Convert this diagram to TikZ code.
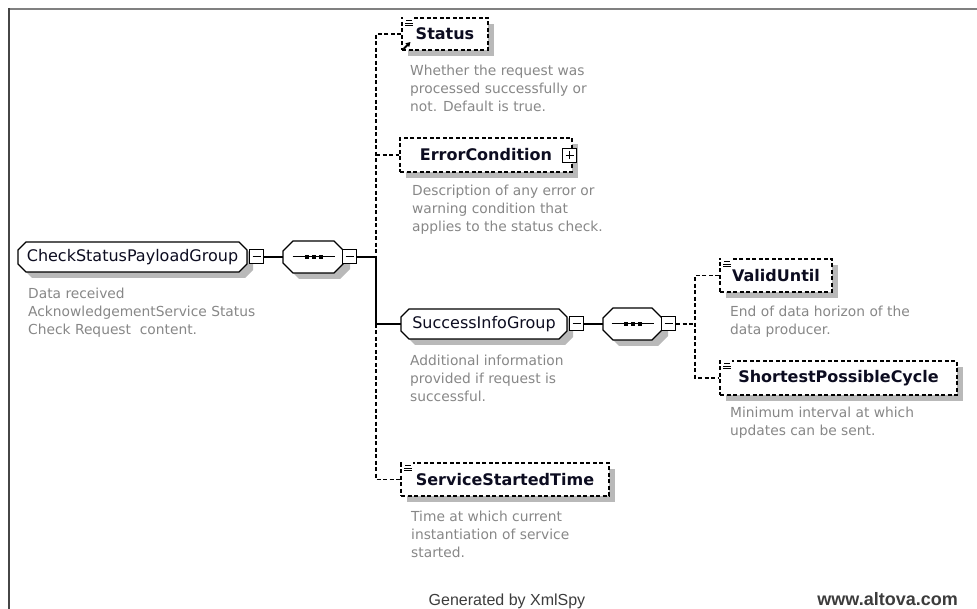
\documentclass[tikz,border=0pt]{standalone}
\usepackage{fontspec}
\setmainfont{DejaVu Sans}
\newfontfamily\footfont{Liberation Sans}
\usetikzlibrary{arrows.meta}

\definecolor{descgray}{RGB}{135,135,135}
\definecolor{shadowgray}{RGB}{185,185,185}
\definecolor{framedark}{RGB}{70,70,70}
\definecolor{framelight}{RGB}{128,128,128}
\definecolor{namecol}{RGB}{12,12,32}
\definecolor{footgray}{RGB}{60,60,60}

% octagonal outline: [style] x1 y1 x2 y2 chamfer
\newcommand\octobox[6][]{\path[#1] (#2+#6,#3) -- (#4-#6,#3) -- (#4,#3+#6) -- (#4,#5-#6)
  -- (#4-#6,#5) -- (#2+#6,#5) -- (#2,#5-#6) -- (#2,#3+#6) -- cycle;}
% group / compositor frame with its shadow: x1 y1 x2 y2 chamfer
\newcommand\groupframe[5]{%
  \octobox[shadowfill]{#1+6}{#2+6}{#3+6}{#4+6}{#5}%
  \octobox[solidline,fill=white]{#1}{#2}{#3}{#4}{#5}}
% shadow of a rectangular element box: x1 y1 x2 y2
\newcommand\boxshadow[4]{\fill[shadowgray] (#1+6,#2+6) rectangle (#3+6,#4+6);}
% sequence symbol: centre x, centre y
\newcommand\seqmark[2]{%
  \draw[line width=1pt] (#1-21,#2) -- (#1+21,#2);
  \foreach \dd in {-7,0,7}{\fill (#1+\dd-2,#2-1.7) rectangle (#1+\dd+2,#2+1.7);}}
% simple-content mark at the top-left corner of an element box
\newcommand\simplemark[2]{%
  \fill[white] (#1+1,#2-1) rectangle (#1+12,#2+9);
  \draw[line width=0.9pt] (#1+4,#2+2.5) -- (#1+10,#2+2.5)
    (#1+3,#2+5) -- (#1+11,#2+5) (#1+3,#2+7.5) -- (#1+11,#2+7.5);}

\tikzset{
  solidline/.style={draw=black, line width=1.3pt},
  dashline/.style={draw=black, line width=1.4pt, dash pattern=on 4pt off 2.5pt},
  shadowfill/.style={fill=shadowgray, draw=none},
  boxlabel/.style={inner sep=0pt, text=namecol, font=\fontsize{16}{19}\selectfont},
  elembox/.style={boxlabel, dashline, fill=white,
    font=\bfseries\fontsize{16}{19}\selectfont},
  toggle/.style={draw=black, fill=white, line width=1pt, minimum size=14pt, inner sep=0pt},
  minussign/.style={toggle, path picture={\draw[line width=1pt]
    ([xshift=3pt]path picture bounding box.west) -- ([xshift=-3pt]path picture bounding box.east);}},
  plussign/.style={toggle, path picture={\draw[line width=1pt]
    ([xshift=3pt]path picture bounding box.west) -- ([xshift=-3pt]path picture bounding box.east)
    ([yshift=-3pt]path picture bounding box.north) -- ([yshift=3pt]path picture bounding box.south);}},
  desc/.style={anchor=north west, inner sep=0pt, align=left, text=descgray,
    font=\fontsize{13.8}{18}\selectfont},
  footer/.style={inner sep=0pt, text=footgray, font=\footfont\fontsize{16}{19}\selectfont},
}

\begin{document}
\begin{tikzpicture}[x=1pt,y=-1pt]
\useasboundingbox (0,0) rectangle (977,609);

% outer frame
\draw[framelight, line width=2pt] (8,9) -- (977,9);
\draw[framedark, line width=2pt] (9,8) -- (9,609);

% CheckStatusPayloadGroup and its sequence
\groupframe{18}{242}{247}{272}{8}
\node[boxlabel, minimum width=229pt, minimum height=30pt] (cspg) at (132.5,257) {CheckStatusPayloadGroup};
\node[minussign] (cspgm) at (256.5,257) {};
\groupframe{283}{241}{344}{273}{10}
\node[inner sep=0pt, minimum width=61pt, minimum height=32pt] (seq1) at (313.5,257) {};
\seqmark{313.5}{257}
\node[minussign] (seq1m) at (349.5,257) {};
\node[desc] (cspgd) at (28,288.3) {Data received\\AcknowledgementService Status\\Check Request\ \ content.};

% children of the first sequence
\boxshadow{402}{18}{488}{50}
\node[elembox, minimum width=86pt, minimum height=32pt] (status) at (445,34) {Status};
\simplemark{402}{18}
\draw[line width=1.8pt, -{Triangle[length=4.5pt,width=5pt]}] (403.5,49) -- (410.5,42);
\node[desc] (statusd) at (410,65) {Whether the request was\\processed successfully or\\not. Default is true.};

\boxshadow{400}{138}{572}{172}
\node[elembox, minimum width=172pt, minimum height=34pt] (errc) at (486,155) {ErrorCondition};
\node[plussign] (errcp) at (569.5,155.5) {};
\node[desc] (errcd) at (412,185) {Description of any error or\\warning condition that\\applies to the status check.};

\groupframe{401}{309}{567}{339}{8}
\node[boxlabel, minimum width=166pt, minimum height=30pt] (sig) at (484,324) {SuccessInfoGroup};
\node[minussign] (sigm) at (576.5,324) {};
\node[desc] (sigd) at (410,355) {Additional information\\provided if request is\\successful.};

\boxshadow{401}{463}{609}{496}
\node[elembox, minimum width=208pt, minimum height=33pt] (sst) at (505,479.5) {ServiceStartedTime};
\simplemark{401}{463}
\node[desc] (sstd) at (411,510.6) {Time at which current\\instantiation of service\\started.};

% SuccessInfoGroup sequence and its children
\groupframe{603}{308}{662}{340}{10}
\node[inner sep=0pt, minimum width=59pt, minimum height=32pt] (seq2) at (632.5,324) {};
\seqmark{632.5}{324}
\node[minussign] (seq2m) at (668.5,324) {};

\boxshadow{720}{259}{832}{292}
\node[elembox, minimum width=112pt, minimum height=33pt] (valid) at (776,275.5) {ValidUntil};
\simplemark{720}{259}
\node[desc] (validd) at (730,306.3) {End of data horizon of the\\data producer.};

\boxshadow{720}{361}{957}{395}
\node[elembox, minimum width=237pt, minimum height=34pt] (spc) at (838.5,378) {ShortestPossibleCycle};
\simplemark{720}{361}
\node[desc] (spcd) at (730,407) {Minimum interval at which\\updates can be sent.};

% connectors
\coordinate (bus1) at (376,257);
\coordinate (bus2) at (695,324);
\draw[solidline] (cspgm.east) -- (seq1.west);
\draw[solidline] (seq1m.east) -- (bus1) -- (bus1 |- sig.west) -- (sig.west);
\draw[solidline] (sigm.east) -- (seq2.west);
\draw[dashline] (status.west) -- (bus1 |- status.west) -- (bus1);
\draw[dashline] (bus1 |- errc.west) -- (errc.west);
\draw[dashline] (bus1 |- sig.west) -- (bus1 |- sst.west) -- (sst.west);
\draw[dashline] (seq2m.east) -- (bus2);
\draw[dashline] (valid.west) -- (bus2 |- valid.west) -- (bus2 |- spc.west) -- (spc.west);

% footer
\node[footer, anchor=base] (gen) at (507,605) {Generated by XmlSpy};
\node[footer, anchor=base east, font=\footfont\bfseries\fontsize{18}{21}\selectfont] (url) at (958,605) {www.altova.com};
\end{tikzpicture}
\end{document}
